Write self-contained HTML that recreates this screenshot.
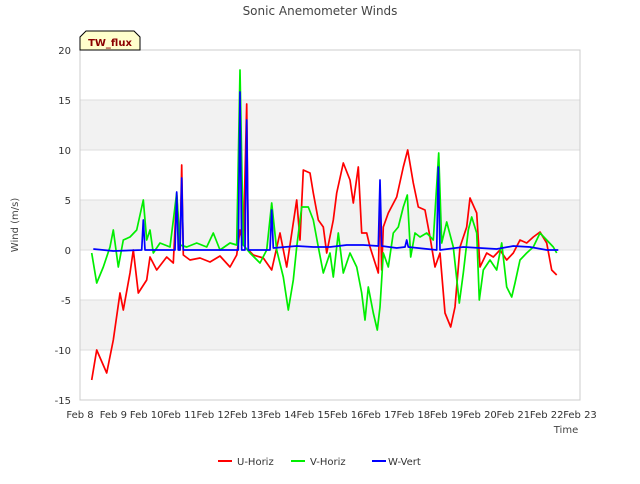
<!DOCTYPE html>
<html><head><meta charset="utf-8"><style>
body{margin:0;background:#fff;font-family:"DejaVu Sans",sans-serif;}
svg text{font-family:"DejaVu Sans",sans-serif;}
</style></head><body>
<svg id="chart" width="640" height="480">
<rect x="0" y="0" width="640" height="480" fill="#fff"/>
<g id="bands"></g><g id="grid"></g>
<rect x="80" y="50" width="500" height="350" fill="none" stroke="#ccc"/>
<g id="series"></g>
<g id="ticks"></g>
<text x="320" y="15" text-anchor="middle" font-size="12" fill="#444">Sonic Anemometer Winds</text>
<text transform="translate(18,225) rotate(-90)" text-anchor="middle" font-size="10" fill="#444">Wind (m/s)</text>
<text x="566" y="433" text-anchor="middle" font-size="10" fill="#444">Time</text>
<g>
<path d="M80,50 L80,37 L86,31 L134,31 L140,37 L140,50 Z" fill="#ffffcc" stroke="#000" stroke-width="1"/>
<text x="110" y="46" text-anchor="middle" font-size="10" font-weight="bold" fill="#8b0000">TW_flux</text>
</g>
<g>
<g><line x1="218" y1="461" x2="232" y2="461" stroke="#f00" stroke-width="2"/><text x="237" y="465" font-size="10" fill="#333">U-Horiz</text></g>
<g><line x1="291" y1="461" x2="305" y2="461" stroke="#0e0" stroke-width="2"/><text x="310" y="465" font-size="10" fill="#333">V-Horiz</text></g>
<g><line x1="372" y1="461" x2="386" y2="461" stroke="#00f" stroke-width="2"/><text x="388" y="465" font-size="10" fill="#333">W-Vert</text></g>
</g>
</svg>
<script>
const xTickLabels=["Feb 8","Feb 9","Feb 10","Feb 11","Feb 12","Feb 13","Feb 14","Feb 15","Feb 16","Feb 17","Feb 18","Feb 19","Feb 20","Feb 21","Feb 22","Feb 23"];
const yTicks=[-15,-10,-5,0,5,10,15,20];
const uDays=[8.35,8.5,8.8,9.0,9.2,9.3,9.5,9.6,9.75,10.0,10.1,10.3,10.6,10.8,10.9,11.0,11.05,11.1,11.3,11.6,11.9,12.2,12.5,12.7,12.8,12.9,13.0,13.05,13.2,13.5,13.75,14.0,14.2,14.5,14.6,14.7,14.9,15.0,15.15,15.3,15.4,15.6,15.7,15.9,16.1,16.2,16.35,16.45,16.6,16.7,16.95,17.0,17.05,17.1,17.25,17.5,17.7,17.83,18.0,18.15,18.35,18.5,18.65,18.8,18.95,19.12,19.25,19.4,19.6,19.7,19.9,20.0,20.2,20.4,20.6,20.8,21.0,21.2,21.4,21.6,21.8,22.0,22.15,22.3];
const uVals=[-13,-10,-12.3,-9,-4.3,-6,-2.3,0,-4.3,-3,-0.7,-2,-0.7,-1.3,5.5,0,8.5,-0.5,-1,-0.8,-1.2,-0.6,-1.7,-0.5,2,0.5,14.6,0,-0.5,-0.8,-2,1.7,-1.7,5,1,8,7.7,5.7,3,2.3,-0.3,3,5.7,8.7,7,4.7,8.3,1.7,1.7,0.3,-2.3,5,-2,2.3,3.7,5.3,8.3,10,6.7,4.3,4,1.3,-1.7,-0.3,-6.3,-7.7,-5.7,0.3,2.3,5.2,3.7,-1.7,-0.3,-0.7,0,-1,-0.3,1,0.7,1.3,1.8,0.7,-2,-2.5];
const vDays=[8.35,8.5,8.7,8.9,9.0,9.15,9.3,9.5,9.7,9.9,10.0,10.1,10.2,10.4,10.7,10.9,11.0,11.2,11.5,11.8,12.0,12.2,12.5,12.7,12.8,12.9,13.1,13.4,13.6,13.75,13.9,14.1,14.25,14.4,14.5,14.65,14.85,15.0,15.15,15.3,15.5,15.6,15.75,15.9,16.1,16.3,16.45,16.55,16.65,16.8,16.92,17.0,17.1,17.25,17.4,17.55,17.7,17.82,17.92,18.05,18.2,18.4,18.6,18.76,18.85,19.0,19.2,19.38,19.5,19.65,19.75,19.9,19.98,20.1,20.3,20.5,20.65,20.8,20.95,21.05,21.2,21.4,21.6,21.8,22.0,22.2,22.3];
const vVals=[-0.3,-3.3,-1.7,0.3,2,-1.7,1,1.3,2,5,1,2,-0.3,0.7,0.3,5.7,0.5,0.3,0.7,0.3,1.7,0,0.7,0.5,18,0.5,-0.3,-1.3,0,4.7,0,-2.7,-6,-3,0.3,4.3,4.3,3,0.3,-2.3,-0.3,-2.7,1.7,-2.3,-0.3,-1.7,-4.3,-7,-3.7,-6.3,-8,-5.7,-0.3,-1.7,1.7,2.3,4.3,5.5,-0.7,1.7,1.3,1.7,1,9.7,0.7,2.8,0.3,-5.3,-2.3,2,3.3,1.7,-5,-2,-1,-2,0.7,-3.7,-4.7,-3.3,-1,-0.3,0.3,1.7,1,0.3,-0.3];
const wDays=[8.4,9.0,9.85,9.9,9.95,10.85,10.9,10.95,11.0,11.05,11.1,12.75,12.8,12.85,12.95,13.0,13.05,13.7,13.75,13.8,14.5,15.0,15.5,16.0,16.5,16.95,17.0,17.05,17.5,17.75,17.8,17.85,18.7,18.75,18.8,19.5,20.0,20.5,21.0,21.5,22.0,22.35];
const wVals=[0.1,-0.1,0,3,0,0,5.8,0,0,7.2,0,0,15.8,0,0,13,0,0,4,0.2,0.4,0.3,0.3,0.5,0.5,0.4,7,0.4,0.2,0.3,1,0.3,0,8.3,0,0.3,0.2,0.1,0.4,0.3,0,0];
const X=d=>80+(d-8)*500/15, Y=v=>250-v*10;
const NS="http://www.w3.org/2000/svg";
const bands=document.getElementById('bands'),grid=document.getElementById('grid'),ticks=document.getElementById('ticks'),series=document.getElementById('series');
[[10,15],[0,5],[-10,-5]].forEach(b=>{const r=document.createElementNS(NS,'rect');
r.setAttribute('x',80);r.setAttribute('y',Y(b[1]));r.setAttribute('width',500);r.setAttribute('height',Y(b[0])-Y(b[1]));r.setAttribute('fill','#f2f2f2');


bands.appendChild(r);});
yTicks.forEach(v=>{const l=document.createElementNS(NS,'line');
l.setAttribute('x1',80);l.setAttribute('x2',580);l.setAttribute('y1',Y(v));l.setAttribute('y2',Y(v));l.setAttribute('stroke','#ddd');


grid.appendChild(l);
const t=document.createElementNS(NS,'text');t.setAttribute('x',71);t.setAttribute('y',Y(v)+4);t.setAttribute('text-anchor','end');t.setAttribute('font-size','10');t.setAttribute('fill','#333');t.textContent=v;


ticks.appendChild(t);});
xTickLabels.forEach((s,i)=>{const t=document.createElementNS(NS,'text');t.setAttribute('x',X(8+i));t.setAttribute('y',418);t.setAttribute('text-anchor','middle');t.setAttribute('font-size','10');t.setAttribute('fill','#333');t.textContent=s;


ticks.appendChild(t);});
function line(days,vals,color,name){const p=document.createElementNS(NS,'polyline');
p.setAttribute('points',days.map((d,i)=>X(d).toFixed(1)+','+Y(vals[i]).toFixed(1)).join(' '));
p.setAttribute('fill','none');p.setAttribute('stroke',color);p.setAttribute('stroke-width','1.7');p.setAttribute('stroke-linejoin','round');


series.appendChild(p);}
line(uDays,uVals,'#f00','u-horiz-line');
line(vDays,vVals,'#0e0','v-horiz-line');
line(wDays,wVals,'#00f','w-vert-line');
</script>
</body></html>
